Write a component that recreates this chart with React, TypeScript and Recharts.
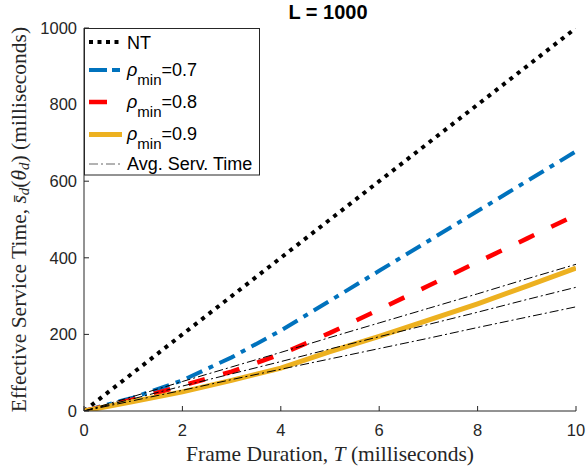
import { Label, Line, LineChart, XAxis, YAxis } from 'recharts'

// Frame duration T (ms) and effective service time (ms)
const T_MS = [0, 1, 2, 3, 4, 5, 6, 7, 8, 9, 10]
const NT = [0, 100, 200, 300, 400, 500, 600, 700, 800, 900, 1000]
const RHO_07 = [0, 35, 80, 140, 210, 288, 366, 444, 522, 600, 678]
const RHO_08 = [0, 30, 66, 103, 148, 204, 265, 327, 389, 450, 512]
const RHO_09 = [0, 25, 50, 80, 112, 155, 195, 237, 280, 326, 373]
const AVG_HIGH = [0, 38, 77, 115, 153, 192, 230, 268, 306, 345, 383]
const AVG_MID = [0, 32, 65, 97, 129, 162, 194, 226, 258, 291, 323]
const AVG_LOW = [0, 27, 54, 82, 109, 136, 163, 190, 218, 245, 272]

const X_TICKS = [0, 2, 4, 6, 8, 10]
const Y_TICKS = [0, 200, 400, 600, 800, 1000]

const W = 586
const H = 471
const PLOT_LEFT = 84
const PLOT_TOP = 28
const PLOT_RIGHT = 576
const PLOT_BOTTOM = 411

const AXIS = '#262626'
const BLUE = '#0072BD'
const RED = '#FF0000'
const YELLOW = '#EDB120'
const SANS = '"Liberation Sans", Arial, Helvetica, sans-serif'
const SERIF = '"Liberation Serif", "Times New Roman", serif'

const data = T_MS.map((t, i) => ({
  t,
  nt: NT[i],
  r7: RHO_07[i],
  r8: RHO_08[i],
  r9: RHO_09[i],
  a1: AVG_HIGH[i],
  a2: AVG_MID[i],
  a3: AVG_LOW[i],
}))

const tickStyle = { fontSize: 16.5, fontFamily: SANS, fill: AXIS }

function XTitle() {
  return (
    <text x={(PLOT_LEFT + PLOT_RIGHT) / 2} y={461} textAnchor="middle" fontFamily={SERIF}
      fontSize={21.5} fill={AXIS}>
      Frame Duration, <tspan fontStyle="italic">T</tspan> (milliseconds)
    </text>
  )
}

function YTitle() {
  const cx = 19
  const cy = (PLOT_TOP + PLOT_BOTTOM) / 2
  return (
    <text x={cx} y={cy} transform={`rotate(-90 ${cx} ${cy})`} textAnchor="middle"
      dominantBaseline="central" fontFamily={SERIF} fontSize={21.5} fill={AXIS}>
      Effective Service Time, <tspan fontStyle="italic">{'s\u0304'}</tspan>
      <tspan fontStyle="italic" fontSize={15} dy={5}>d</tspan>
      <tspan dy={-5}>(</tspan><tspan fontStyle="italic">θ</tspan>
      <tspan fontStyle="italic" fontSize={15} dy={5}>d</tspan>
      <tspan dy={-5}>)</tspan> (milliseconds)
    </text>
  )
}

interface LegendRow {
  label: 'nt' | 'rho' | 'avg'
  value?: string
  y: number
  stroke: string
  width: number
  dash?: string
}

const LEGEND_ROWS: LegendRow[] = [
  { label: 'nt', y: 42, stroke: '#000', width: 4, dash: '4 4.5' },
  { label: 'rho', value: '0.7', y: 70, stroke: BLUE, width: 4, dash: '18 5 8 40' },
  { label: 'rho', value: '0.8', y: 102, stroke: RED, width: 4.5, dash: '18 40' },
  { label: 'rho', value: '0.9', y: 134.5, stroke: YELLOW, width: 5 },
  { label: 'avg', y: 164, stroke: '#666', width: 1, dash: '9 3 2 3' },
]

function Overlay() {
  return (
    <svg width={W} height={H} style={{ position: 'absolute', left: 0, top: 0, pointerEvents: 'none' }}>
      <text x={328} y={18.5} textAnchor="middle" fontFamily={SANS} fontWeight="bold"
        fontSize={20} fill="#000">
        L = 1000
      </text>
      <rect x={84.5} y={28.5} width={175} height={146.5} fill="#fff" stroke={AXIS} strokeWidth={1} />
      {LEGEND_ROWS.map((row, i) => (
        <g key={i}>
          <line x1={89} x2={122} y1={row.y} y2={row.y} stroke={row.stroke}
            strokeWidth={row.width} strokeDasharray={row.dash} />
          {row.label === 'nt' && (
            <text x={127} y={48.7} fontFamily={SANS} fontSize={18} fill="#000">NT</text>
          )}
          {row.label === 'avg' && (
            <text x={127} y={170} fontFamily={SANS} fontSize={18} fill="#000">Avg. Serv. Time</text>
          )}
          {row.label === 'rho' && (
            <text x={127} y={row.y + 5.5} fontFamily={SANS} fontSize={18} fill="#000">
              <tspan fontStyle="italic">ρ</tspan>
              <tspan dy={9} fontSize={15}>min</tspan>
              <tspan dy={-9}>=</tspan>{row.value}
            </text>
          )}
        </g>
      ))}
    </svg>
  )
}

export default function App() {
  return (
    <div style={{ position: 'absolute', left: 0, top: 0, width: W, height: H, background: '#fff' }}>
      <LineChart width={W} height={H} data={data}
        margin={{ top: PLOT_TOP, right: W - PLOT_RIGHT, bottom: 0, left: 0 }}>
        <XAxis dataKey="t" type="number" domain={[0, 10]} ticks={X_TICKS} allowDataOverflow
          height={H - PLOT_BOTTOM} stroke={AXIS} tickSize={-5} tickMargin={18} tick={tickStyle}>
          <Label content={() => <XTitle />} />
        </XAxis>
        <XAxis xAxisId="top" orientation="top" dataKey="t" type="number" domain={[0, 10]}
          ticks={X_TICKS} height={0} stroke={AXIS} tickSize={-5} tick={false} />
        <YAxis type="number" domain={[0, 1000]} ticks={Y_TICKS} allowDataOverflow width={PLOT_LEFT}
          stroke={AXIS} tickSize={-5} tickMargin={12} tick={tickStyle}>
          <Label content={() => <YTitle />} />
        </YAxis>
        <YAxis yAxisId="right" orientation="right" type="number" domain={[0, 1000]} ticks={Y_TICKS}
          width={0} stroke={AXIS} tickSize={-5} tick={false} />
        <Line dataKey="nt" stroke="#000" strokeWidth={4} strokeDasharray="4 5.3" dot={false}
          activeDot={false} isAnimationActive={false} />
        <Line dataKey="r7" stroke={BLUE} strokeWidth={4} strokeDasharray="17 7 5 7" dot={false}
          activeDot={false} isAnimationActive={false} />
        <Line dataKey="r8" stroke={RED} strokeWidth={4.5} strokeDasharray="17 19" dot={false}
          activeDot={false} isAnimationActive={false} />
        <Line dataKey="r9" stroke={YELLOW} strokeWidth={5} dot={false}
          activeDot={false} isAnimationActive={false} />
        <Line dataKey="a1" stroke="#000" strokeWidth={1} strokeDasharray="9 3 2 3" dot={false}
          activeDot={false} isAnimationActive={false} />
        <Line dataKey="a2" stroke="#000" strokeWidth={1} strokeDasharray="9 3 2 3" dot={false}
          activeDot={false} isAnimationActive={false} />
        <Line dataKey="a3" stroke="#000" strokeWidth={1} strokeDasharray="9 3 2 3" dot={false}
          activeDot={false} isAnimationActive={false} />
      </LineChart>
      <Overlay />
    </div>
  )
}
